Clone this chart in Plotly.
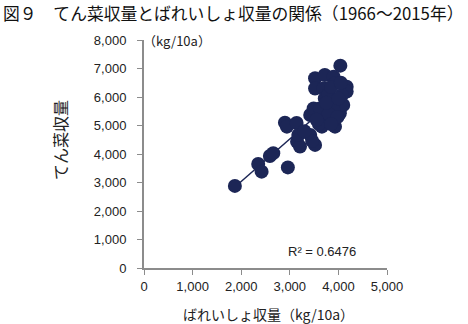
import numpy as np
import plotly.graph_objects as go

potato = [1870, 2350, 2420, 2590, 2660, 2960, 3150, 3210, 2900, 2940,
          3140, 3175, 3420, 3520, 3420, 3660, 3930, 3590, 3790, 4030,
          3900, 3690, 4040, 3520, 3720, 3900, 3930, 4170, 4170, 3520,
          3690, 4070, 3720, 3900, 3490, 4100, 3620, 3900, 3460, 3800,
          3800, 3980, 3600, 3750, 4000, 3850, 3300, 3550, 3850, 4050]
beet = [2880, 3650, 3380, 3930, 4030, 3530, 4430, 4260, 5100, 4960,
        5090, 4670, 4670, 4320, 5370, 4960, 4960, 5540, 5660, 5430,
        5190, 5190, 7100, 6660, 6770, 6710, 6480, 6360, 6190, 6300,
        6300, 6070, 5950, 5840, 5600, 5720, 5600, 5540, 4460, 5400,
        6100, 5300, 5050, 5800, 5950, 6350, 4800, 5200, 5050, 6500]

x_ticks = [0, 1000, 2000, 3000, 4000, 5000]
y_ticks = [0, 1000, 2000, 3000, 4000, 5000, 6000, 7000, 8000]

title_text = "図９　てん菜収量とばれいしょ収量の関係（1966～2015年）"
y_title = "てん菜収量"
x_title = "ばれいしょ収量（kg/10a）"
unit_text = "（kg/10a）"
r2_text = "R² = 0.6476"

navy = "#1c2656"
axis_gray = "#8c8c8c"
font_jp = "Noto Sans CJK JP"
font_num = "Liberation Sans"

xa = np.array(potato, dtype=float)
ya = np.array(beet, dtype=float)
slope, intercept = np.polyfit(xa, ya, 1)
line_x = [xa.min(), xa.max()]
line_y = [slope * v + intercept for v in line_x]

fig = go.Figure()
fig.add_trace(go.Scatter(x=line_x, y=line_y, mode="lines",
                         line=dict(color=navy, width=1.5), hoverinfo="skip"))
fig.add_trace(go.Scatter(x=potato, y=beet, mode="markers",
                         marker=dict(color=navy, size=14, line=dict(width=0))))

axis_common = dict(showgrid=False, zeroline=False,
                   showline=True, linecolor=axis_gray, linewidth=2,
                   ticks="outside", ticklen=5, tickcolor=axis_gray, tickwidth=1,
                   tickfont=dict(size=13, color="#222222", family=font_num))

fig.update_layout(
    width=468, height=324,
    margin=dict(l=144, r=81, t=40, b=56),
    paper_bgcolor="white", plot_bgcolor="white",
    showlegend=False,
    font=dict(family=font_jp, color="#222222", size=12),
    xaxis=dict(range=[0, 5000], tickvals=x_ticks,
               ticktext=[f"{v:,}" for v in x_ticks], **axis_common),
    yaxis=dict(range=[0, 8000], tickvals=y_ticks,
               ticktext=[f"{v:,}" for v in y_ticks],
               ticklabelstandoff=8, **axis_common),
)

fig.add_annotation(text=title_text, xref="paper", yref="paper",
                   x=(1 - 144) / 243, y=(268 - 13) / 228,
                   xanchor="left", yanchor="middle", showarrow=False,
                   font=dict(size=16.8, color="#111111", family=font_jp))
fig.add_annotation(text=y_title, xref="paper", yref="paper", textangle=-90,
                   x=(60 - 144) / 243, y=(268 - 140) / 228,
                   xanchor="center", yanchor="middle", showarrow=False,
                   font=dict(size=16, color="#222222", family=font_jp))
fig.add_annotation(text=unit_text, xref="paper", yref="paper",
                   x=(141 - 144) / 243, y=(268 - 40) / 228,
                   xanchor="left", yanchor="middle", showarrow=False,
                   font=dict(size=13, color="#222222", family=font_jp))
fig.add_annotation(text=x_title, xref="paper", yref="paper",
                   x=(268 - 144) / 243, y=(268 - 314) / 228,
                   xanchor="center", yanchor="middle", showarrow=False,
                   font=dict(size=14, color="#222222", family=font_jp))
fig.add_annotation(text=r2_text, xref="paper", yref="paper",
                   x=(322 - 144) / 243, y=(268 - 251) / 228,
                   xanchor="center", yanchor="middle", showarrow=False,
                   font=dict(size=13, color="#222222", family=font_num))

fig.write_html("out.html")
